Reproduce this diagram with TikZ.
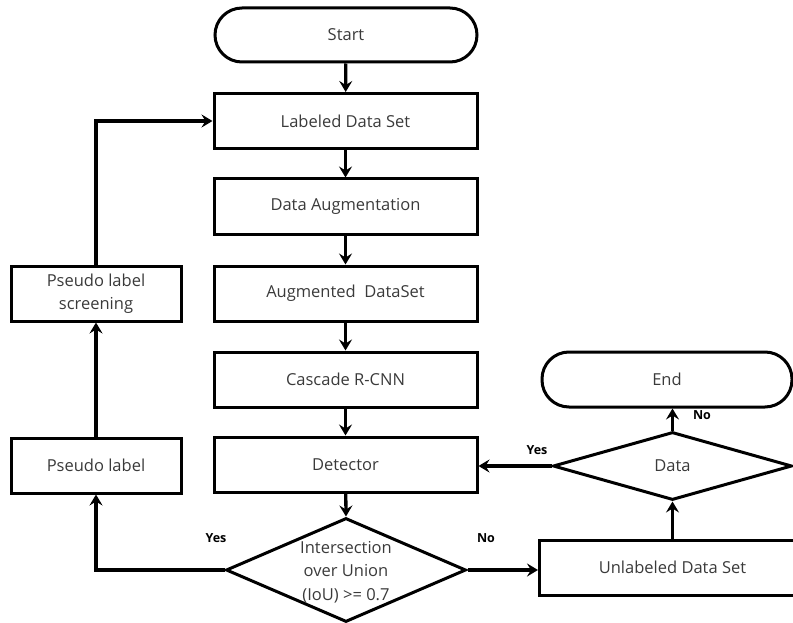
\documentclass[tikz,border=0pt]{standalone}
\usepackage{fontspec}
\setmainfont{Open Sans}
\usetikzlibrary{shapes.geometric,arrows.meta,calc}
\definecolor{txt}{HTML}{3A3A3A}
\begin{document}
\begin{tikzpicture}[x=1pt,y=-1pt,
  every node/.style={font=\fontsize{16.5}{23}\selectfont, text=txt},
  procbox/.style={draw=black, line width=3pt, rectangle, minimum height=55pt, inner sep=0pt, align=center},
  terminal/.style={draw=black, line width=3pt, rectangle, rounded corners=27pt, minimum height=54pt, inner sep=0pt},
  decision/.style={draw=black, line width=3pt, diamond, inner sep=0pt},
  flow/.style={line width=3.3pt, -{Stealth[length=11pt,width=13pt,inset=4pt]}},
  answer/.style={font=\bfseries\fontsize{12.5}{14}\selectfont, text=black}]
\clip (0,0) rectangle (793,623);
\useasboundingbox (0,0) rectangle (793,623);

% main column
\node[terminal, minimum width=262pt] (start) at (346,35) {Start};
\node[procbox, minimum width=263pt] (labeled) at (345.5,121) {Labeled Data Set};
\node[procbox, minimum width=263pt] (aug) at (345.5,206.5) {Data Augmentation};
\node[procbox, minimum width=263pt] (augset) at (345.5,293.5) {Augmented\ \ DataSet};
\node[procbox, minimum width=263pt] (cascade) at (345.5,379.5) {Cascade R-CNN};
\node[procbox, minimum width=263pt] (detector) at (345.5,464.5) {Detector};
\node[decision, minimum width=240pt, minimum height=104pt] (iou) at (346,570) {};
\node[align=center, font=\fontsize{16.5}{23.5}\selectfont] (ioutext) at (346,572) {Intersection\\over Union\\(IoU) >= 0.7};

% pseudo-label loop
\node[procbox, minimum width=170pt] (pseudo) at (96,465.5) {Pseudo label};
\node[procbox, minimum width=170pt] (screen) at (96,293.5) {Pseudo label\\screening};

% unlabeled branch
\node[procbox, minimum width=266pt] (unlab) at (672.5,567.5) {Unlabeled Data Set};
\node[decision, minimum width=239pt, minimum height=68pt] (data) at (672.5,466) {};
\node (datatext) at (672.5,466) {Data};
\node[terminal, minimum width=250pt, minimum height=55pt] (end) at (667,379.5) {End};

% connectors
\draw[flow] (start) -- (labeled);
\draw[flow] (labeled) -- (aug);
\draw[flow] (aug) -- (augset);
\draw[flow] (augset) -- (cascade);
\draw[flow] (cascade) -- (detector);
\draw[flow] (detector) -- (iou.north);
\draw[flow] (iou.east) -- (iou.east -| unlab.west);
\draw[flow] (unlab.north) -- (data.south);
\draw[flow] (data.north) -- (data.north |- end.south);
\draw[flow] (data.west) -- (data.west -| detector.east);
\draw[flow] (iou.west) -| (pseudo.south);
\draw[flow] (pseudo) -- (screen);
\draw[flow] (screen.north) |- (labeled.west);

% branch answers
\node[answer] at (216,538) {Yes};
\node[answer] at (486,538) {No};
\node[answer] at (537,450) {Yes};
\node[answer] at (702,415) {No};
\end{tikzpicture}
\end{document}
